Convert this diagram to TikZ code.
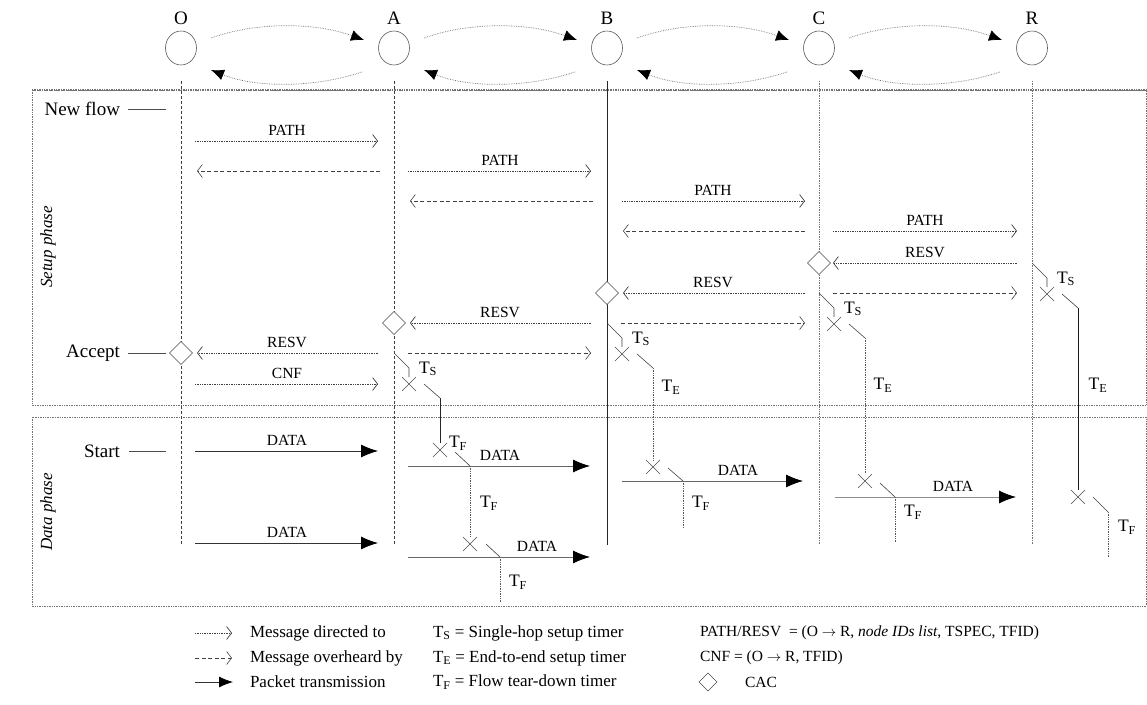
\documentclass[tikz,border=0pt]{standalone}
\usepackage{fontspec}
\setmainfont{Liberation Serif}
\usetikzlibrary{arrows.meta,shapes.geometric}
\newcommand\tsmark[2]{%
  \begin{scope}[shift={(#1,#2)}]
    \draw[tline] (0,0) -- (15,15) -- (15,24);
    \draw[xmark] (8,24) -- (22,38) (8,38) -- (22,24);
    \node[tm] at (34,16) {T\textsubscript{S}};
    \draw[tline] (30,31) -- (46,45);
  \end{scope}}
\newcommand\xmk[2]{\draw[xmark,shift={(#1,#2)}] (-7,-7) -- (7,7) (-7,7) -- (7,-7);}
\begin{document}
\begin{tikzpicture}[x=1pt,y=-1pt,
  every node/.style={inner sep=0pt,outer sep=0pt},
  lbl/.style={font=\fontsize{15.5}{17}\selectfont},
  big/.style={font=\fontsize{19}{21}\selectfont},
  tm/.style={font=\fontsize{17.5}{19}\selectfont},
  leg/.style={font=\fontsize{17}{19}\selectfont,anchor=west},
  legs/.style={font=\fontsize{15.5}{17}\selectfont,anchor=west},
  frame/.style={draw=black!55,densely dotted,line width=0.7pt},
  lifeline/.style={draw=black!75,densely dashed,line width=0.6pt},
  nodecirc/.style={ellipse,draw=black!65,line width=0.6pt,minimum width=31pt,minimum height=34pt},
  arc/.style={draw=black!55,densely dotted,line width=0.7pt,-{Latex[length=13pt,width=11pt,color=black]}},
  dirmsg/.style={draw=black!75,densely dotted,line width=0.7pt,-{Straight Barb[length=5pt,width=13pt]}},
  ovmsg/.style={draw=black!75,dash pattern=on 4pt off 2.5pt,line width=0.6pt,-{Straight Barb[length=5pt,width=13pt]}},
  datamsg/.style={draw=black!80,line width=0.8pt,-{Latex[length=17pt,width=13pt,color=black]}},
  cac/.style={draw=black!70,diamond,minimum width=23pt,minimum height=23pt,fill=white,line width=0.6pt},
  tline/.style={draw=black!75,line width=0.6pt},
  tvert/.style={draw=black!65,densely dotted,line width=0.7pt},
  xmark/.style={draw=black!70,line width=0.6pt},
  lead/.style={draw=black!70,line width=0.6pt}
]
\useasboundingbox (0,0) rectangle (1147,704);
% frames
\draw[frame] (32,90) rectangle (1146,405);
\draw[draw=black!55,line width=1.4pt,densely dotted] (32,90) -- (1146,90);
\draw[frame] (32,417) rectangle (1146,606);
\node[rotate=90,font=\fontsize{17}{19}\selectfont\itshape] (setup) at (48,247) {Setup phase};
\node[rotate=90,font=\fontsize{17}{19}\selectfont\itshape] (dataph) at (48,512) {Data phase};
% nodes
\foreach \n/\x in {O/181,A/394,B/607,C/819,R/1032}{
  \node[nodecirc] (\n) at (\x,48) {};
  \node[big] (\n lab) at (\x,18) {\n};
  \coordinate (\n top) at (\x,81);
  \coordinate (\n bot) at (\x,545);
}
\draw[lifeline] (Otop) -- (Obot);
\draw[lifeline] (Atop) -- (Abot);
\draw[draw=black!85,line width=0.7pt] (Btop) -- (Bbot);
\draw[draw=black!55,densely dotted,line width=0.7pt] (Ctop) -- (Cbot);
\draw[draw=black!55,densely dotted,line width=0.7pt] (Rtop) -- (Rbot);
% top arcs
\foreach \a/\b in {181/394,394/607,607/819,819/1032}{
  \draw[arc] (\a+30,38) .. controls (\a+75,22) and (\b-80,22) .. (\b-30,40);
  \draw[arc] (\b-32,72) .. controls (\b-80,88) and (\a+75,88) .. (\a+30,70);
}
% left labels
\node[big,anchor=east] (newflow) at (120,109) {New flow};
\draw[lead] (128,109) -- (166,109);
\node[big,anchor=east] (accept) at (120,353) {Accept};
\draw[lead] (128,353) -- (166,353);
\node[big,anchor=east] (start) at (120,451) {Start};
\draw[lead] (129,451) -- (166,451);
% setup messages
\draw[dirmsg] (195,141) -- (378,141); \node[lbl] at (287,130) {PATH};
\draw[ovmsg] (380,171) -- (197,171);
\draw[dirmsg] (408,171) -- (591,171); \node[lbl] at (500,160) {PATH};
\draw[ovmsg] (593,201) -- (410,201);
\draw[dirmsg] (622,201) -- (805,201); \node[lbl] at (713,190) {PATH};
\draw[ovmsg] (805,231) -- (623,231);
\draw[dirmsg] (833,231) -- (1017,231); \node[lbl] at (925,220) {PATH};
\draw[dirmsg] (1017,263) -- (833,263); \node[lbl] at (925,252) {RESV};
\draw[ovmsg] (833,293) -- (1017,293);
\draw[dirmsg] (805,293) -- (623,293); \node[lbl] at (713,282) {RESV};
\draw[ovmsg] (621,323) -- (805,323);
\draw[dirmsg] (591,323) -- (410,323); \node[lbl] at (500,312) {RESV};
\draw[ovmsg] (408,353) -- (591,353);
\draw[dirmsg] (378,353) -- (197,353); \node[lbl] at (287,342) {RESV};
\draw[dirmsg] (195,384) -- (378,384); \node[lbl] at (287,373) {CNF};
% CAC diamonds
\node[cac] (dO) at (181,353) {};
\node[cac] (dA) at (394,323) {};
\node[cac] (dB) at (607,293) {};
\node[cac] (dC) at (819,263) {};
% single-hop timers
\tsmark{394}{353}
\tsmark{607}{323}
\tsmark{819}{293}
\tsmark{1032}{263}
% end-to-end verticals
\draw[draw=black!85,line width=0.7pt] (440,398) -- (440,443);
\draw[tvert] (653,368) -- (653,460);
\draw[tvert] (865,338) -- (865,474);
\draw[draw=black!90,line width=1pt] (1078,308) -- (1078,490);
\node[tm] at (671,387) {T\textsubscript{E}};
\node[tm] at (883,385) {T\textsubscript{E}};
\node[tm] at (1098,385) {T\textsubscript{E}};
% data phase
\draw[datamsg] (195,451) -- (378,451); \node[lbl] at (287,440) {DATA};
\draw[datamsg] (195,543) -- (378,543); \node[lbl] at (287,532) {DATA};
% A
\xmk{440}{450}
\node[tm] at (458,443) {T\textsubscript{F}};
\draw[tline] (455,452) -- (470,466);
\draw[datamsg,draw=black!60] (408,466) -- (590,466); \node[lbl] at (500,455) {DATA};
\draw[tvert] (470,466) -- (470,537);
\node[tm] at (489,503) {T\textsubscript{F}};
\xmk{470}{544}
\draw[tline] (486,544) -- (500,557);
\draw[datamsg,draw=black!60] (408,557) -- (590,557); \node[lbl] at (537,546) {DATA};
\draw[tvert] (500,557) -- (500,602);
\node[tm] at (518,582) {T\textsubscript{F}};
% B
\xmk{653}{467}
\draw[tline] (668,468) -- (683,481);
\draw[datamsg,draw=black!60] (622,481) -- (803,481); \node[lbl] at (738,470) {DATA};
\draw[tvert] (683,481) -- (683,527);
\node[tm] at (701,503) {T\textsubscript{F}};
% C
\xmk{865}{481}
\draw[tline] (880,483) -- (895,497);
\draw[datamsg,draw=black!45] (835,497) -- (1016,497); \node[lbl] at (953,486) {DATA};
\draw[tvert] (895,497) -- (895,542);
\node[tm] at (913,512) {T\textsubscript{F}};
% R
\xmk{1078}{497}
\draw[tline] (1093,497) -- (1108,512);
\draw[tvert] (1108,512) -- (1108,557);
\node[tm] at (1127,527) {T\textsubscript{F}};
% legend
\draw[dirmsg] (195,633) -- (232,633); \node[leg] at (250,633) {Message directed to};
\draw[ovmsg] (195,658) -- (232,658); \node[leg] at (250,658) {Message overheard by};
\draw[datamsg,-{Latex[length=14pt,width=11pt,color=black]}] (195,682) -- (233,682); \node[leg] at (250,682) {Packet transmission};
\node[leg] at (433,633) {T\textsubscript{S} = Single-hop setup timer};
\node[leg] at (433,658) {T\textsubscript{E} = End-to-end setup timer};
\node[leg] at (433,682) {T\textsubscript{F} = Flow tear-down timer};
\node[legs] at (700,633) {PATH/RESV\ \ = (O $\rightarrow$ R, \textit{node IDs list}, TSPEC, TFID)};
\node[legs] at (700,658) {CNF\ = (O $\rightarrow$ R, TFID)};
\node[cac,minimum width=18pt,minimum height=18pt] (legdia) at (708,682) {};
\node[legs] at (745,682) {CAC};
\end{tikzpicture}
\end{document}
